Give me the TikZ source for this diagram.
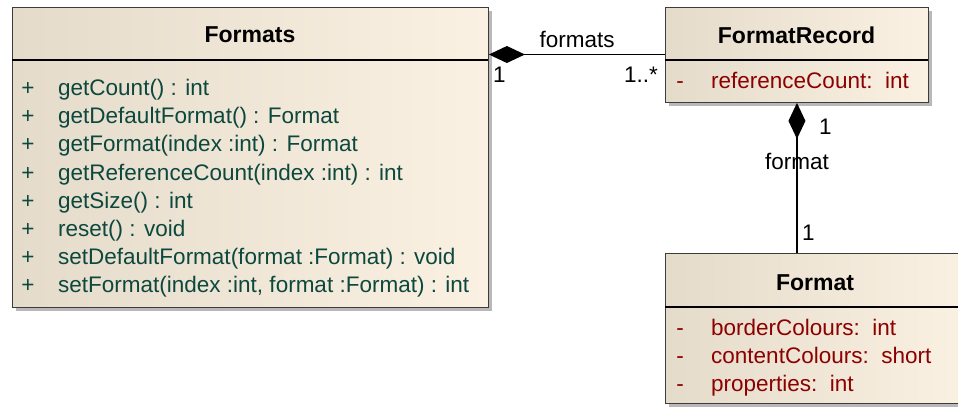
\documentclass[tikz,border=0pt]{standalone}
\usepackage{fontspec}
\setmainfont{Liberation Sans}
\usetikzlibrary{arrows.meta,shadows}
\definecolor{opcol}{RGB}{12,72,62}
\definecolor{attcol}{RGB}{140,0,0}
\definecolor{boxleft}{RGB}{228,219,203}
\definecolor{boxright}{RGB}{251,241,226}
\definecolor{bordercol}{RGB}{60,60,60}
\tikzset{
  classbox/.style={draw=bordercol, line width=0.9pt, left color=boxleft, right color=boxright,
    anchor=north west, inner sep=0pt,
    drop shadow={shadow xshift=4pt, shadow yshift=-4pt, fill=black!28, opacity=1}},
  sepline/.style={line width=1.3pt, black},
  titletext/.style={font=\fontsize{23}{27}\selectfont\bfseries, inner sep=0pt},
  optext/.style={font=\fontsize{22.5}{26}\selectfont, text=opcol, anchor=base west, inner sep=0pt},
  attext/.style={font=\fontsize{22.5}{26}\selectfont, text=attcol, anchor=base west, inner sep=0pt},
  optsign/.style={font=\fontsize{22.5}{26}\selectfont, text=opcol, anchor=base, inner sep=0pt},
  attsign/.style={font=\fontsize{22.5}{26}\selectfont, text=attcol, anchor=base, inner sep=0pt},
  conn/.style={line width=1.4pt, black},
  lbl/.style={font=\fontsize{22.5}{26}\selectfont, inner sep=0pt},
  comp/.style={conn, {Diamond[length=36pt,width=17pt]}-}
}
\begin{document}
\begin{tikzpicture}[x=1pt,y=-1pt]
\useasboundingbox (0,0) rectangle (958,408);
% boxes
\node[classbox, minimum width=476pt, minimum height=300pt] (formats) at (12,7) {};
\node[classbox, minimum width=263pt, minimum height=95pt] (record) at (665,7) {};
\node[classbox, minimum width=300pt, minimum height=150pt] (format) at (665,253) {};
% separators
\draw[sepline] (12,60) -- (488,60);
\draw[sepline] (665,60) -- (928,60);
\draw[sepline] (665,307) -- (965,307);
% titles
\node[titletext] (t1) at (250,35) {Formats};
\node[titletext] (t2) at (796.5,35) {FormatRecord};
\node[titletext] (t3) at (815,283) {Format};
% Formats operations
\foreach \y/\t [count=\i] in {
  95/{getCount() : int},
  123/{getDefaultFormat() : Format},
  151/{getFormat(index :int) : Format},
  180/{getReferenceCount(index :int) : int},
  208/{getSize() : int},
  236/{reset() : void},
  264/{setDefaultFormat(format :Format) : void},
  292/{setFormat(index :int, format :Format) : int}} {
  \node[optsign] (ps\i) at (28,\y) {+};
  \node[optext] (op\i) at (58,\y) {\t};
}
% FormatRecord attribute
\node[attsign] (rs1) at (680,88) {-};
\node[attext] (ra1) at (711,88) {referenceCount:\ \ int};
% Format attributes
\foreach \y/\t [count=\i] in {
  335/{borderColours:\ \ int},
  363/{contentColours:\ \ short},
  391/{properties:\ \ int}} {
  \node[attsign] (fs\i) at (680,\y) {-};
  \node[attext] (fa\i) at (711,\y) {\t};
}
% connectors
\coordinate (c1) at ([yshift=-47.5pt]formats.north east);
\draw[comp] (c1) -- (c1 -| record.west);
\draw[comp] (record.south) -- (record.south |- format.north);
% labels
\node[lbl] (l1) at (577,39) {formats};
\node[lbl, anchor=west] (l2) at (493,75) {1};
\node[lbl, anchor=east] (l3) at (658,75) {1..*};
\node[lbl, anchor=west] (l4) at (819,127) {1};
\node[lbl] (l5) at (797,161) {format};
\node[lbl, anchor=west] (l6) at (802,233) {1};
\end{tikzpicture}
\end{document}
